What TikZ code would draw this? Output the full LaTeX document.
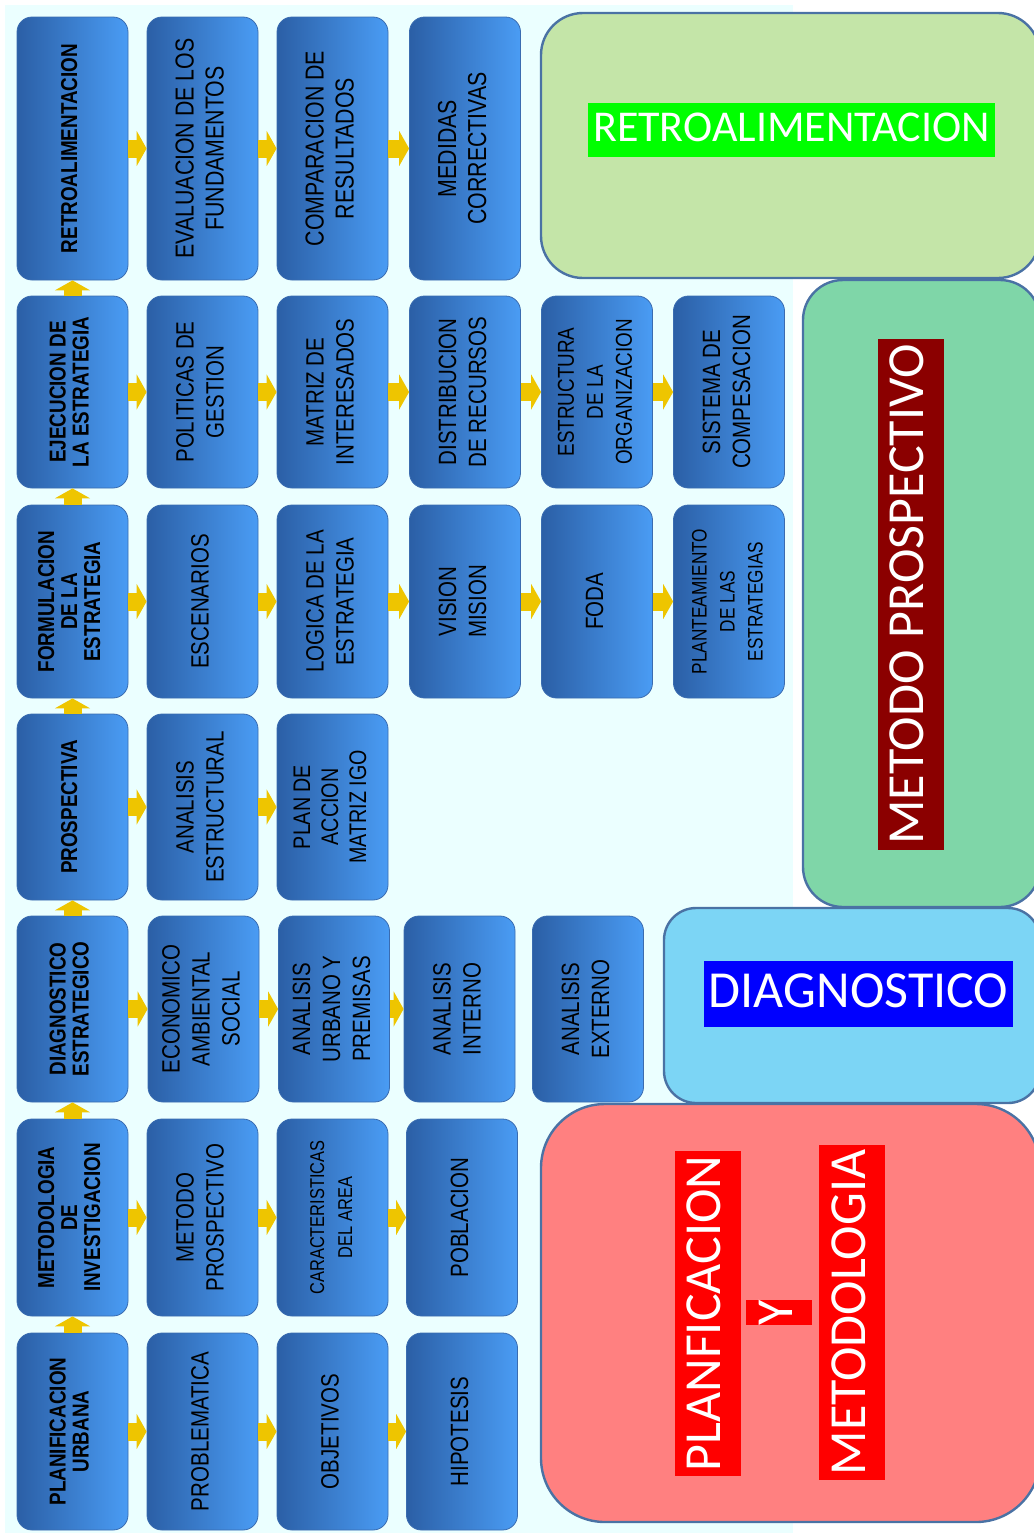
\documentclass[tikz,border=0pt]{standalone}
\usepackage{fontspec}
\usepackage{tikz}
\usepackage{graphicx}
\usetikzlibrary{arrows.meta}
\setmainfont{Liberation Sans}
\newfontfamily\boxfont[FakeStretch=0.82]{Liberation Sans}
\newfontfamily\titlefont{Carlito}
\definecolor{paper}{HTML}{EBFFFF}
\definecolor{boxdark}{HTML}{2B5FA6}
\definecolor{boxlight}{HTML}{4A9CF4}
\definecolor{boxline}{HTML}{3A6CB0}
\definecolor{arrowyellow}{HTML}{EEC500}
\definecolor{frameblue}{HTML}{4A72A4}
\definecolor{retrogreen}{HTML}{C4E5A8}
\definecolor{prospgreen}{HTML}{7FD6A8}
\definecolor{diagblue}{HTML}{7CD5F5}
\definecolor{planred}{HTML}{FF8080}
\definecolor{labelgreen}{HTML}{00FF00}
\definecolor{labeldarkred}{HTML}{8B0000}
\definecolor{labelblue}{HTML}{0000FF}
\definecolor{labelred}{HTML}{FF0000}
\newcommand{\vtext}[1]{\rotatebox{90}{\begin{tabular}{@{}c@{}}#1\end{tabular}}}

\begin{document}
\begin{tikzpicture}[x=0.5pt,y=-0.5pt,
	stepbox/.style={rounded corners=7.5pt,draw=boxline,line width=0.4pt,left color=boxdark,right color=boxlight,minimum width=55.5pt,inner sep=0pt,font=\boxfont\fontsize{12.5}{15}\selectfont},
	headbox/.style={stepbox,font=\boxfont\bfseries\fontsize{11.5}{11.5}\selectfont},
	yarrow/.style={draw=arrowyellow,line width=9pt,-{Triangle[length=5pt,width=17.5pt]}},
	bigbox/.style={draw=frameblue,line width=1.2pt},
	titlelabel/.style={text=white,font=\titlefont\fontsize{26}{30}\selectfont,inner xsep=2.5pt,inner ysep=3.5pt,text height=19.5pt,text depth=6.5pt}]
		\useasboundingbox (0,0) rectangle (1034,1533);
		\fill[paper] (5,5) rectangle (793,1533);
		\draw[bigbox,fill=retrogreen,rounded corners=21pt] (541,13) rectangle (1040,278);
		\draw[bigbox,fill=prospgreen,rounded corners=20pt] (803,280) rectangle (1040,907);
		\draw[bigbox,fill=diagblue,rounded corners=16pt] (664,908) rectangle (1040,1103);
		\draw[bigbox,fill=planred,rounded corners=32pt] (541,1104) rectangle (1040,1522);
		\node[titlelabel,fill=labelgreen,font=\titlefont\fontsize{22}{26}\selectfont,text height=16.5pt,text depth=5.5pt,inner ysep=2.5pt] (retrolabel) at (791.5,130) {RETROALIMENTACION};
		\node[titlelabel,fill=labeldarkred,rotate=90] (prosplabel) at (910.5,594.5) {METODO PROSPECTIVO};
		\node[titlelabel,fill=labelblue] (diaglabel) at (858.5,994) {DIAGNOSTICO};
		\node[titlelabel,fill=labelred,rotate=90] (planlabel) at (707.5,1313.5) {PLANFICACION};
		\node[titlelabel,fill=labelred,rotate=90,inner xsep=0pt] (ylabel) at (779,1312.5) {Y};
		\node[titlelabel,fill=labelred,rotate=90] (metlabel) at (852,1312.5) {METODOLOGIA};
		
		\node[headbox,minimum height=131.5pt] (r1) at (72.5,148.5) {\vtext{RETROALIMENTACION}};
		\node[stepbox,minimum height=131.5pt,font=\boxfont\fontsize{13}{15}\selectfont] (r2) at (202.5,148.5) {\vtext{EVALUACION DE LOS\\FUNDAMENTOS}};
		\node[stepbox,minimum height=131.5pt,font=\boxfont\fontsize{13}{15}\selectfont] (r3) at (332.5,148.5) {\vtext{COMPARACION DE\\RESULTADOS}};
		\node[stepbox,minimum height=131.5pt,font=\boxfont\fontsize{13}{15}\selectfont] (r4) at (465,148.5) {\vtext{MEDIDAS\\CORRECTIVAS}};
		
		\node[headbox,minimum height=96pt] (e1) at (72.5,392) {\vtext{EJECUCION DE\\LA ESTRATEGIA}};
		\node[stepbox,minimum height=96pt] (e2) at (202.5,392) {\vtext{POLITICAS DE\\GESTION}};
		\node[stepbox,minimum height=96pt] (e3) at (332.5,392) {\vtext{MATRIZ DE\\INTERESADOS}};
		\node[stepbox,minimum height=96pt] (e4) at (465,392) {\vtext{DISTRIBUCION\\DE RECURSOS}};
		\node[stepbox,minimum height=96pt,font=\boxfont\fontsize{11.5}{14.5}\selectfont] (e5) at (597,392) {\vtext{ESTRUCTURA\\DE LA\\ORGANIZACION}};
		\node[stepbox,minimum height=96pt] (e6) at (729,392) {\vtext{SISTEMA DE\\COMPESACION}};
		
		\node[headbox,minimum height=96.5pt] (f1) at (72.5,601.5) {\vtext{FORMULACION\\DE LA\\ESTRATEGIA}};
		\node[stepbox,minimum height=96.5pt] (f2) at (202.5,601.5) {\vtext{ESCENARIOS}};
		\node[stepbox,minimum height=96.5pt] (f3) at (332.5,601.5) {\vtext{LOGICA DE LA\\ESTRATEGIA}};
		\node[stepbox,minimum height=96.5pt] (f4) at (465,601.5) {\vtext{VISION\\MISION}};
		\node[stepbox,minimum height=96.5pt] (f5) at (597,601.5) {\vtext{FODA}};
		\node[stepbox,minimum height=96.5pt,font=\boxfont\fontsize{10.5}{14}\selectfont] (f6) at (729,601.5) {\vtext{PLANTEAMIENTO\\DE LAS\\ESTRATEGIAS}};
		
		\node[headbox,minimum height=93pt] (s1) at (72.5,807) {\vtext{PROSPECTIVA}};
		\node[stepbox,minimum height=93pt] (s2) at (202.5,807) {\vtext{ANALISIS\\ESTRUCTURAL}};
		\node[stepbox,minimum height=93pt,font=\boxfont\fontsize{12}{14}\selectfont] (s3) at (332.5,807) {\vtext{PLAN DE\\ACCION\\MATRIZ IGO}};
		
		\node[headbox,minimum height=93pt] (d1) at (72.5,1009) {\vtext{DIAGNOSTICO\\ESTRATEGICO}};
		\node[stepbox,minimum height=93pt] (d2) at (203.5,1009) {\vtext{ECONOMICO\\AMBIENTAL\\SOCIAL}};
		\node[stepbox,minimum height=93pt] (d3) at (334,1009) {\vtext{ANALISIS\\URBANO Y\\PREMISAS}};
		\node[stepbox,minimum height=93pt] (d4) at (459.5,1009) {\vtext{ANALISIS\\INTERNO}};
		\node[stepbox,minimum height=93pt] (d5) at (588,1009) {\vtext{ANALISIS\\EXTERNO}};
		
		\node[headbox,minimum height=98.5pt] (m1) at (72.5,1217.5) {\vtext{METODOLOGIA\\DE\\INVESTIGACION}};
		\node[stepbox,minimum height=98.5pt] (m2) at (202.5,1217.5) {\vtext{METODO\\PROSPECTIVO}};
		\node[stepbox,minimum height=98.5pt,font=\boxfont\fontsize{10}{14}\selectfont] (m3) at (332.5,1217.5) {\vtext{CARACTERISTICAS\\DEL AREA}};
		\node[stepbox,minimum height=98.5pt] (m4) at (462,1217.5) {\vtext{POBLACION}};
		
		\node[headbox,minimum height=98.5pt] (p1) at (72.5,1431.5) {\vtext{PLANIFICACION\\URBANA}};
		\node[stepbox,minimum height=98.5pt] (p2) at (202.5,1431.5) {\vtext{PROBLEMATICA}};
		\node[stepbox,minimum height=98.5pt] (p3) at (332.5,1431.5) {\vtext{OBJETIVOS}};
		\node[stepbox,minimum height=98.5pt] (p4) at (462,1431.5) {\vtext{HIPOTESIS}};
		
		\draw[yarrow] (r1) -- (r2);
		\draw[yarrow] (r2) -- (r3);
		\draw[yarrow] (r3) -- (r4);
		\draw[yarrow] (e1) -- (e2);
		\draw[yarrow] (e2) -- (e3);
		\draw[yarrow] (e3) -- (e4);
		\draw[yarrow] (e4) -- (e5);
		\draw[yarrow] (e5) -- (e6);
		\draw[yarrow] (f1) -- (f2);
		\draw[yarrow] (f2) -- (f3);
		\draw[yarrow] (f3) -- (f4);
		\draw[yarrow] (f4) -- (f5);
		\draw[yarrow] (f5) -- (f6);
		\draw[yarrow] (s1) -- (s2);
		\draw[yarrow] (s2) -- (s3);
		\draw[yarrow] (d1) -- (d2);
		\draw[yarrow] (d2) -- (d3);
		\draw[yarrow] (d3) -- (d4);
		\draw[yarrow] (m1) -- (m2);
		\draw[yarrow] (m2) -- (m3);
		\draw[yarrow] (m3) -- (m4);
		\draw[yarrow] (p1) -- (p2);
		\draw[yarrow] (p2) -- (p3);
		\draw[yarrow] (p3) -- (p4);
		
		\draw[yarrow] (p1) -- (m1);
		\draw[yarrow] (m1) -- (d1);
		\draw[yarrow] (d1) -- (s1);
		\draw[yarrow] (s1) -- (f1);
		\draw[yarrow] (f1) -- (e1);
		\draw[yarrow] (e1) -- (r1);
\end{tikzpicture}
\end{document}
